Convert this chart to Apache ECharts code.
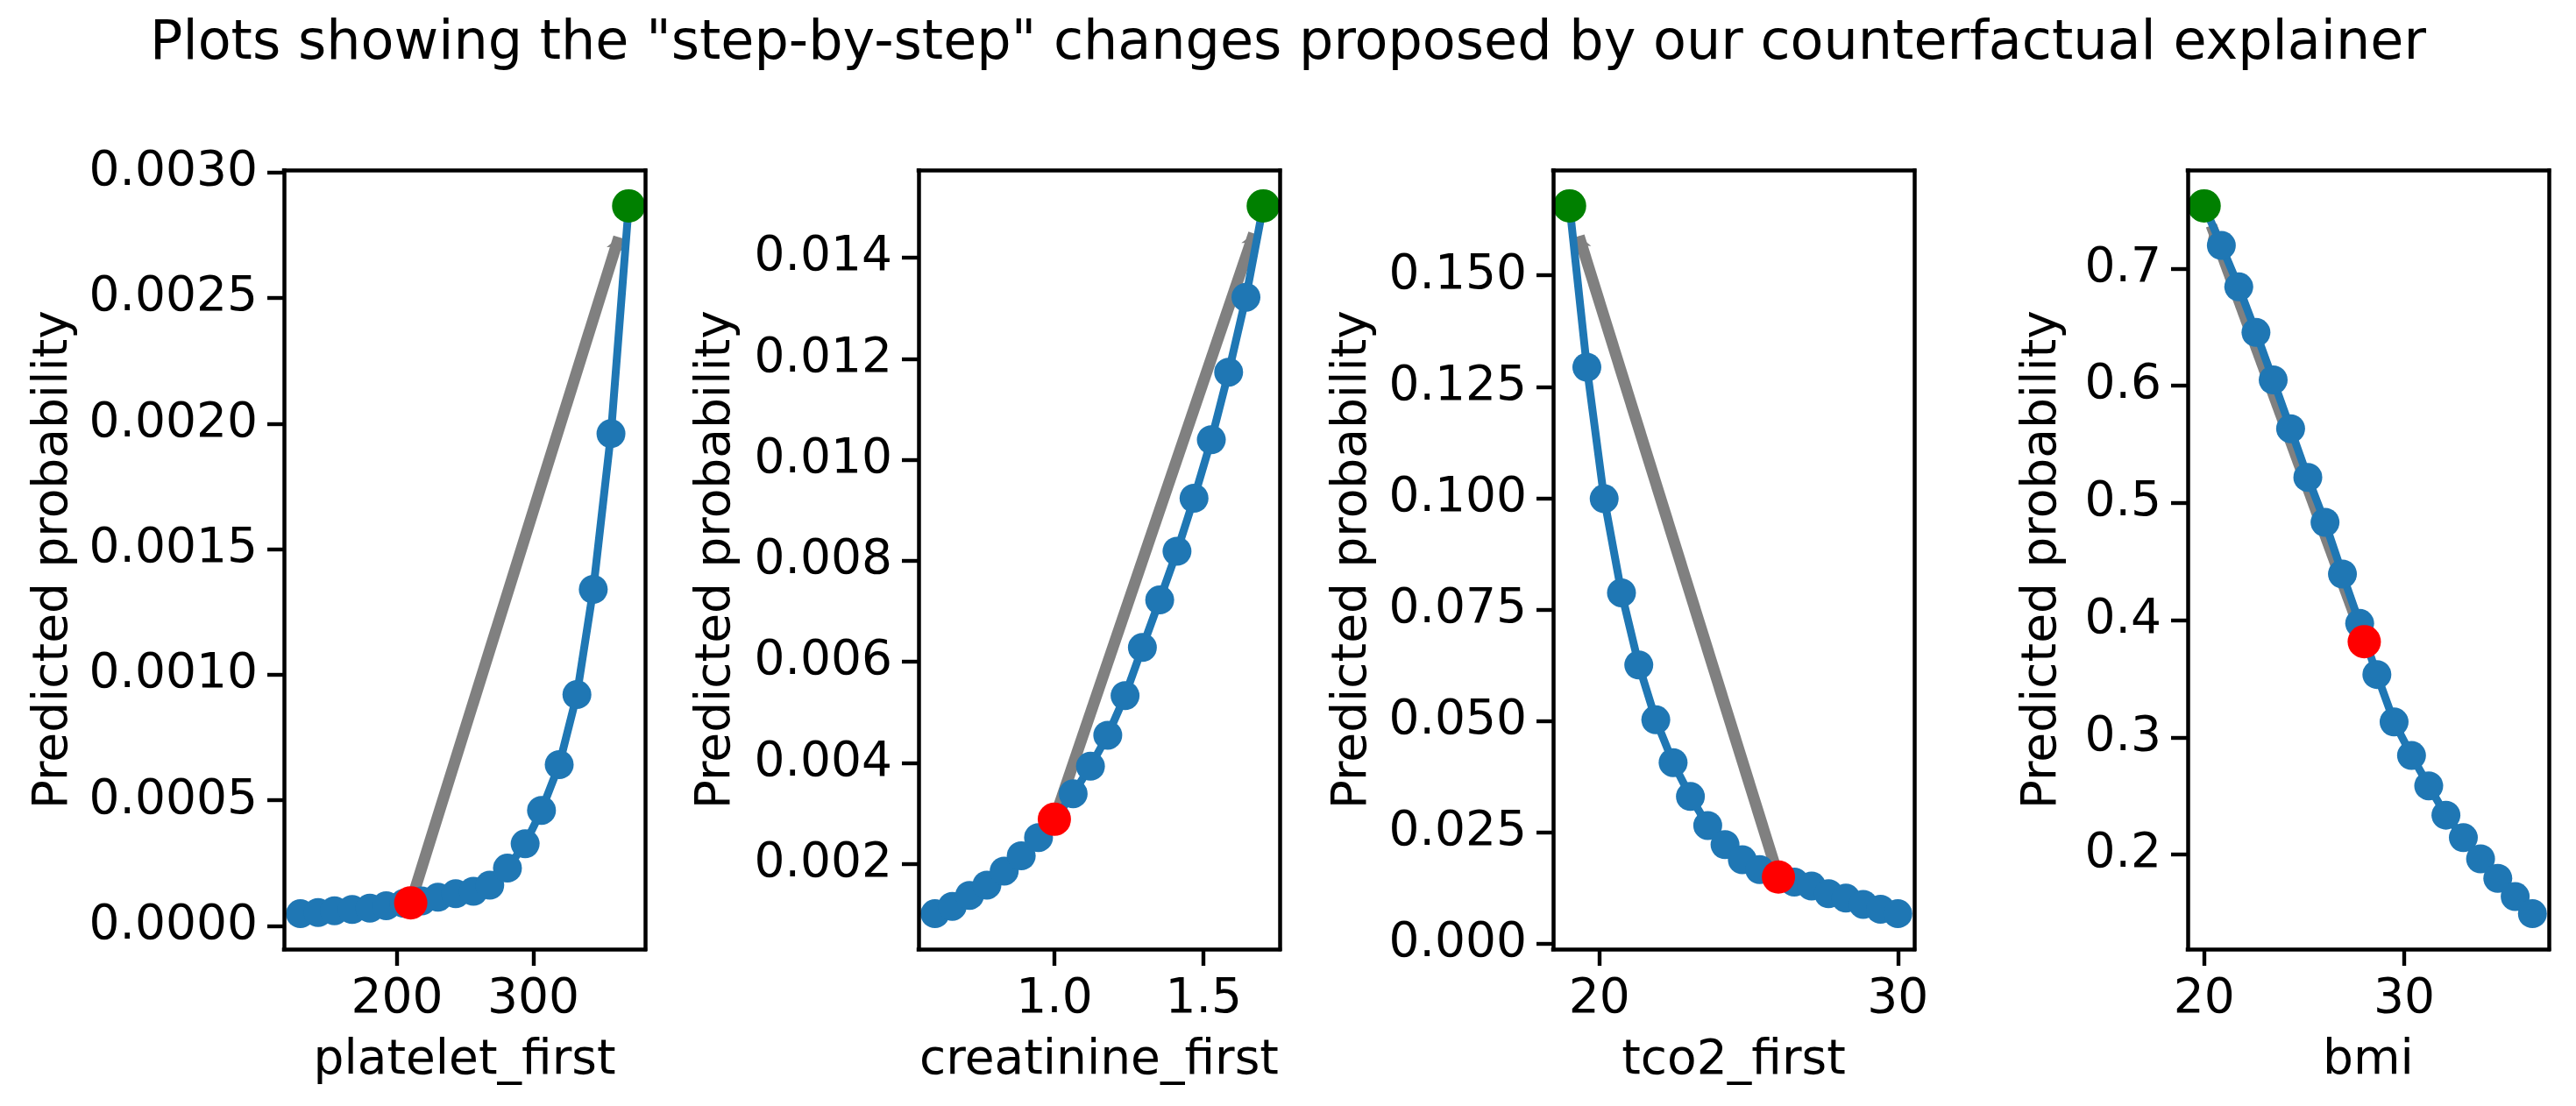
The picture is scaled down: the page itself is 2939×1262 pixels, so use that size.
<!DOCTYPE html>
<html><head><meta charset="utf-8">
<script src="https://cdn.jsdelivr.net/npm/echarts@6/dist/echarts.min.js"></script>
<style>html,body{margin:0;padding:0;background:#fff}#c{width:2939px;height:1262px}</style>
</head><body><div id="c"></div>
<script>
const titleText = 'Plots showing the "step-by-step" changes proposed by our counterfactual explainer';
const yAxisName = 'Predicted probability';

// Panel 1: platelet_first
const plateletX = [129, 142, 154, 167, 180, 192, 205, 218, 230, 243, 256, 268, 281, 294, 306, 319, 332, 344, 357, 370];
const plateletProb = [0.0000485, 0.0000533, 0.0000606, 0.0000654, 0.0000703, 0.0000800, 0.0000897, 0.0000994, 0.000114, 0.000128, 0.000138, 0.000162, 0.000230, 0.000327, 0.000460, 0.000642, 0.000921, 0.00134, 0.00196, 0.002867];
const plateletOriginal = [210, 0.000092];
const plateletCounterfactual = [370, 0.002867];
const plateletXTicks = [200, 300];
const plateletYTicks = [0, 0.0005, 0.001, 0.0015, 0.002, 0.0025, 0.003];

// Panel 2: creatinine_first
const creatinineX = [0.6, 0.658, 0.716, 0.774, 0.832, 0.889, 0.947, 1.005, 1.063, 1.121, 1.179, 1.237, 1.295, 1.353, 1.411, 1.468, 1.526, 1.584, 1.642, 1.7];
const creatinineProb = [0.00101, 0.001156, 0.001373, 0.001578, 0.001855, 0.002157, 0.002519, 0.00292, 0.003387, 0.00393, 0.004545, 0.005329, 0.006282, 0.007223, 0.008188, 0.009238, 0.010396, 0.011735, 0.013218, 0.015028];
const creatinineOriginal = [1.0, 0.00288];
const creatinineCounterfactual = [1.7, 0.015028];
const creatinineXTicks = [1.0, 1.5];
const creatinineYTicks = [0.002, 0.004, 0.006, 0.008, 0.010, 0.012, 0.014];

// Panel 3: tco2_first
const tco2X = [19.0, 19.58, 20.16, 20.74, 21.32, 21.89, 22.47, 23.05, 23.63, 24.21, 24.79, 25.37, 25.95, 26.53, 27.11, 27.68, 28.26, 28.84, 29.42, 30.0];
const tco2Prob = [0.1656, 0.1294, 0.0999, 0.0788, 0.0626, 0.0503, 0.0407, 0.0331, 0.0266, 0.0223, 0.0189, 0.0167, 0.0152, 0.0139, 0.0130, 0.0113, 0.0103, 0.0089, 0.0078, 0.0068];
const tco2Original = [26.0, 0.01503];
const tco2Counterfactual = [19.0, 0.1656];
const tco2XTicks = [20, 30];
const tco2YTicks = [0, 0.025, 0.05, 0.075, 0.1, 0.125, 0.15];

// Panel 4: bmi
const bmiX = [20.0, 20.86, 21.73, 22.59, 23.45, 24.32, 25.18, 26.04, 26.91, 27.77, 28.63, 29.49, 30.36, 31.22, 32.08, 32.95, 33.81, 34.67, 35.54, 36.4];
const bmiProb = [0.7535, 0.7197, 0.6844, 0.6455, 0.6050, 0.5634, 0.5219, 0.4835, 0.4394, 0.3973, 0.3537, 0.3132, 0.2846, 0.2587, 0.2337, 0.2145, 0.1964, 0.1798, 0.1642, 0.1496];
const bmiOriginal = [28.0, 0.3817];
const bmiCounterfactual = [20.0, 0.7535];
const bmiXTicks = [20, 30];
const bmiYTicks = [0.2, 0.3, 0.4, 0.5, 0.6, 0.7];

const featureNames = ['platelet_first', 'creatinine_first', 'tco2_first', 'bmi'];

const panels = [
  {name: featureNames[0], x: plateletX, y: plateletProb, orig: plateletOriginal, cf: plateletCounterfactual, xt: plateletXTicks, yt: plateletYTicks, xd: 0, yd: 4},
  {name: featureNames[1], x: creatinineX, y: creatinineProb, orig: creatinineOriginal, cf: creatinineCounterfactual, xt: creatinineXTicks, yt: creatinineYTicks, xd: 1, yd: 3},
  {name: featureNames[2], x: tco2X, y: tco2Prob, orig: tco2Original, cf: tco2Counterfactual, xt: tco2XTicks, yt: tco2YTicks, xd: 0, yd: 3},
  {name: featureNames[3], x: bmiX, y: bmiProb, orig: bmiOriginal, cf: bmiCounterfactual, xt: bmiXTicks, yt: bmiYTicks, xd: 0, yd: 1}
];

// layout (pixels)
const gridLefts = [324, 1048, 1772, 2496];
const gridWidth = 412, gridTop = 194.5, gridHeight = 888.5;
const yNameGaps = [235, 203, 201, 138];
const FONT = 'DejaVu Sans';
const FS = 55;
const BLUE = '#1f77b4', GREY = '#808080';

function lim(vals) {
  const mn = Math.min(...vals), mx = Math.max(...vals);
  const m = (mx - mn) * 0.05;
  return [mn - m, mx + m];
}

const grids = [], xAxes = [], yAxes = [], series = [];
panels.forEach((p, i) => {
  grids.push({left: gridLefts[i], top: gridTop, width: gridWidth, height: gridHeight, containLabel: false, show: false});
  const xl = lim(p.x.concat([p.orig[0], p.cf[0]]));
  const yl = lim(p.y.concat([p.orig[1], p.cf[1]]));
  const frameLine = {show: true, onZero: false, lineStyle: {color: '#000', width: 4.5, cap: 'square'}};
  xAxes.push({
    type: 'value', gridIndex: i, position: 'bottom', min: xl[0], max: xl[1], z: 10,
    axisLine: frameLine, splitLine: {show: false},
    axisTick: {show: true, inside: false, length: 19, lineStyle: {color: '#000', width: 4.4}, customValues: p.xt},
    axisLabel: {show: true, margin: 30, fontFamily: FONT, fontSize: FS, color: '#000', customValues: p.xt,
      formatter: v => Number(v).toFixed(p.xd)},
    name: p.name, nameLocation: 'middle', nameGap: 100,
    nameTextStyle: {fontFamily: FONT, fontSize: FS, color: '#000'}
  });
  xAxes.push({
    type: 'value', gridIndex: i, position: 'top', min: xl[0], max: xl[1], z: 10,
    axisLine: frameLine, splitLine: {show: false}, axisTick: {show: false}, axisLabel: {show: false}
  });
  yAxes.push({
    type: 'value', gridIndex: i, position: 'left', min: yl[0], max: yl[1], z: 10,
    axisLine: frameLine, splitLine: {show: false},
    axisTick: {show: true, inside: false, length: 19, lineStyle: {color: '#000', width: 4.4}, customValues: p.yt},
    axisLabel: {show: true, margin: 30, fontFamily: FONT, fontSize: FS, color: '#000', customValues: p.yt,
      formatter: v => Number(v).toFixed(p.yd)},
    name: yAxisName, nameLocation: 'middle', nameRotate: 90, nameGap: yNameGaps[i],
    nameTextStyle: {fontFamily: FONT, fontSize: FS, color: '#000'}
  });
  yAxes.push({
    type: 'value', gridIndex: i, position: 'right', min: yl[0], max: yl[1], z: 10,
    axisLine: frameLine, splitLine: {show: false}, axisTick: {show: false}, axisLabel: {show: false}
  });
  const xi = 2 * i, yi = 2 * i;
  const f = 0.955;
  const tip = [p.orig[0] + f * (p.cf[0] - p.orig[0]), p.orig[1] + f * (p.cf[1] - p.orig[1])];
  series.push({
    type: 'lines', coordinateSystem: 'cartesian2d', xAxisIndex: xi, yAxisIndex: yi, z: 1, silent: true,
    symbol: ['none', 'arrow'], symbolSize: 15,
    lineStyle: {color: GREY, width: 13, opacity: 1},
    data: [{coords: [p.orig, tip]}]
  });
  series.push({
    type: 'line', xAxisIndex: xi, yAxisIndex: yi, z: 2, silent: true, animation: false,
    data: p.x.map((v, k) => [v, p.y[k]]),
    symbol: 'circle', symbolSize: 33, showSymbol: true,
    lineStyle: {color: BLUE, width: 9}, itemStyle: {color: BLUE, opacity: 1, borderWidth: 0}
  });
  series.push({
    type: 'scatter', xAxisIndex: xi, yAxisIndex: yi, z: 3, silent: true,
    data: [p.orig], symbol: 'circle', symbolSize: 38, itemStyle: {color: '#ff0000', opacity: 1, borderWidth: 0}
  });
  series.push({
    type: 'scatter', xAxisIndex: xi, yAxisIndex: yi, z: 3, silent: true,
    data: [p.cf], symbol: 'circle', symbolSize: 38, itemStyle: {color: '#008000', opacity: 1, borderWidth: 0}
  });
});

const chart = echarts.init(document.getElementById('c'), null, {renderer: 'canvas'});
chart.setOption({
  backgroundColor: '#fff',
  animation: false,
  title: {text: titleText, left: 'center', top: 15,
    textStyle: {fontFamily: FONT, fontSize: 62, fontWeight: 'normal', color: '#000'}},
  grid: grids, xAxis: xAxes, yAxis: yAxes, series: series
});
</script></body></html>
